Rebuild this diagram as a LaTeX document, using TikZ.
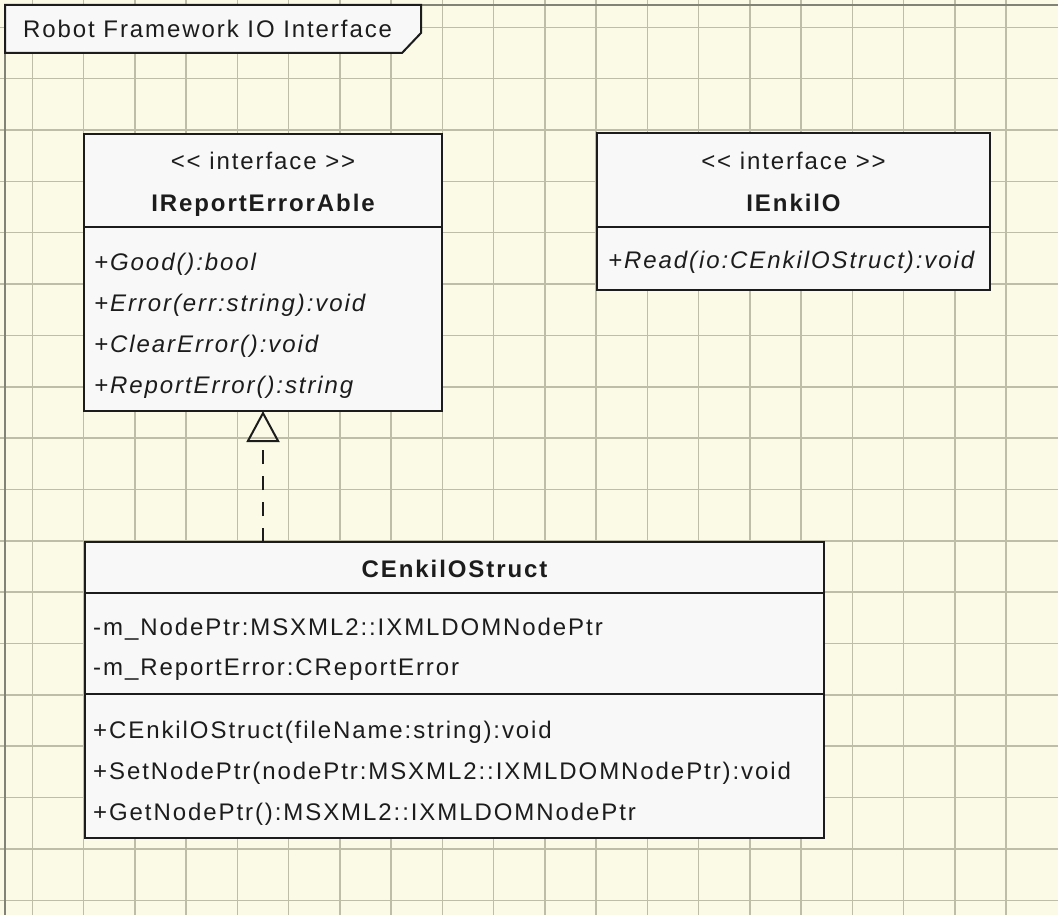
\documentclass[tikz,border=0pt]{standalone}
\usepackage{fontspec}
\setmainfont{Liberation Sans}[LetterSpace=8, Ligatures=TeXOff]
\usetikzlibrary{arrows.meta}

\definecolor{paper}{RGB}{250,250,230}
\definecolor{gridline}{RGB}{190,190,168}
\definecolor{framegrey}{RGB}{130,130,118}
\definecolor{boxfill}{RGB}{248,248,248}
\definecolor{ink}{RGB}{28,28,28}

\tikzset{
  classbox/.style={draw=ink, fill=boxfill, line width=2pt, inner sep=0pt, outer sep=0pt, anchor=north west},
  divider/.style={draw=ink, line width=2pt},
  member/.style={anchor=base west, inner sep=0pt, text=ink},
  memberit/.style={member, font=\fontsize{24}{28}\selectfont\itshape},
  centred/.style={anchor=base, inner sep=0pt, text=ink},
  classname/.style={centred, font=\fontsize{24}{28}\selectfont\bfseries},
  realizes/.style={draw=ink, line width=2pt, dash pattern=on 14pt off 12pt,
                   -{Triangle[open, length=31pt, width=33pt]}}
}

\begin{document}
\begin{tikzpicture}[x=1pt, y=-1pt, font=\fontsize{24}{28}\selectfont]
  % sheet and background grid
  \fill[paper] (0,0) rectangle (1058,915);
  \useasboundingbox (0,0) rectangle (1058,915);
  \foreach \k in {0,...,19} {
    \draw[gridline, line width=1.5pt] ({32.4+51.25*\k},0) -- ({32.4+51.25*\k},915);
  }
  \foreach \k in {0,...,17} {
    \draw[gridline, line width=1.5pt] (0,{27.3+51.35*\k}) -- (1058,{27.3+51.35*\k});
  }

  % package frame and its name tab
  \draw[framegrey, line width=2pt] (5,915) -- (5,5) -- (1058,5);
  \draw[ink, line width=2pt, fill=boxfill] (5,5) -- (421,5) -- (421,33) -- (402,53) -- (5,53) -- cycle;
  \node[member] (pkgname) at (23,38) {Robot Framework IO Interface};

  % interface IReportErrorAble
  \node[classbox, minimum width=358pt, minimum height=277pt] (ire) at (84,134) {};
  \draw[divider] (84,227) -- (442,227);
  \node[centred] (ireStereo) at (263,170) {<< interface >>};
  \node[classname] (ireName) at (263,211.5) {IReportErrorAble};
  \node[memberit] (ireM1) at (94,270) {+Good():bool};
  \node[memberit] (ireM2) at (94,311) {+Error(err:string):void};
  \node[memberit] (ireM3) at (94,352) {+ClearError():void};
  \node[memberit] (ireM4) at (94,393) {+ReportError():string};

  % interface IEnkilO
  \node[classbox, minimum width=393pt, minimum height=157pt] (ienk) at (597,133) {};
  \draw[divider] (597,227) -- (990,227);
  \node[centred] (ienkStereo) at (793.5,170) {<< interface >>};
  \node[classname] (ienkName) at (793.5,211.5) {IEnkilO};
  \node[memberit] (ienkM1) at (608,268) {+Read(io:CEnkilOStruct):void};

  % class CEnkilOStruct
  \node[classbox, minimum width=739pt, minimum height=296pt] (ces) at (85,542) {};
  \draw[divider] (85,593) -- (824,593);
  \draw[divider] (85,694) -- (824,694);
  \node[classname] (cesName) at (454.5,577) {CEnkilOStruct};
  \node[member] (cesA1) at (93,635) {-m\_NodePtr:MSXML2::IXMLDOMNodePtr};
  \node[member] (cesA2) at (93,675) {-m\_ReportError:CReportError};
  \node[member] (cesM1) at (93,738) {+CEnkilOStruct(fileName:string):void};
  \node[member] (cesM2) at (93,779) {+SetNodePtr(nodePtr:MSXML2::IXMLDOMNodePtr):void};
  \node[member] (cesM3) at (93,820) {+GetNodePtr():MSXML2::IXMLDOMNodePtr};

  % realization: CEnkilOStruct implements IReportErrorAble
  \draw[realizes] (ces.north -| ire.south) -- (ire.south);
\end{tikzpicture}
\end{document}
